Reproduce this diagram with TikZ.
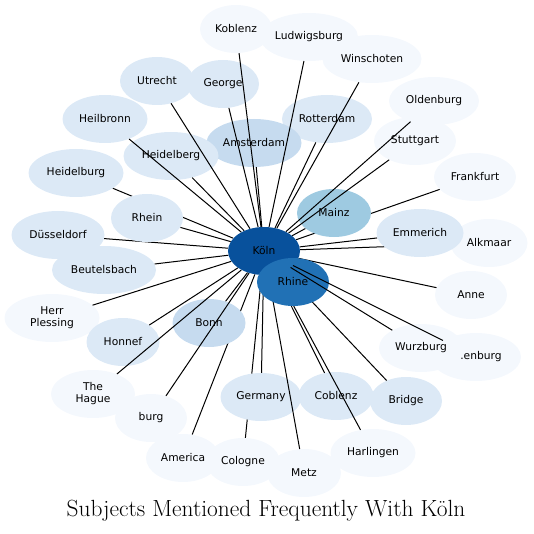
\documentclass[tikz,border=0pt]{standalone}
\usepackage{fontspec}
\newfontfamily\dejavu{DejaVu Sans}
\usepackage{xcolor}
\usepackage{tikz}
\usetikzlibrary{shapes.geometric, calc}

\definecolor{blA}{HTML}{F4F8FD}
\definecolor{blB}{HTML}{DCE9F6}
\definecolor{blC}{HTML}{C6DBEF}
\definecolor{blD}{HTML}{9ECAE1}
\definecolor{blE}{HTML}{2171B5}
\definecolor{blF}{HTML}{08519C}

\pgfdeclarelayer{nodosA}
\pgfdeclarelayer{aristasA}
\pgfdeclarelayer{aristasB}
\pgfdeclarelayer{nodosC}
\pgfdeclarelayer{aristasC}
\pgfsetlayers{nodosA,aristasA,main,aristasB,nodosC,aristasC}

\begin{document}
\begin{tikzpicture}[
    x=1pt, y=-1pt,
    ent/.style={ellipse, fill=#1, minimum width=72pt, minimum height=48pt, inner sep=0pt, align=center, font=\dejavu\fontsize{10.7}{12}\selectfont},
    link/.style={line width=1pt},
    title/.style={font=\fontsize{23.4}{28}\selectfont}
]
\useasboundingbox (0,0) rectangle (533,534);

% ==========================================
% NODOS EXTERIORES
% ==========================================
\begin{pgfonlayer}{nodosA}
\node[ent=blA] (koblenz) at (236,29) {Koblenz};
\node[ent=blA, minimum width=98pt] (ludwigsburg) at (309,37) {Ludwigsburg};
\node[ent=blA, minimum width=99pt] (winschoten) at (372,59) {Winschoten};
\node[ent=blB, minimum width=74pt] (utrecht) at (157,81) {Utrecht};
\node[ent=blB] (george) at (223,84) {George};
\node[ent=blA, minimum width=90pt] (oldenburg) at (434,101) {Oldenburg};
\node[ent=blB, minimum width=85pt] (heilbronn) at (105,119) {Heilbronn};
\node[ent=blB, minimum width=90pt] (rotterdam) at (327,119) {Rotterdam};
\node[ent=blC, minimum width=95pt] (amsterdam) at (254,143) {Amsterdam};
\node[ent=blB, minimum width=95pt] (heidelberg) at (171,156) {Heidelberg};
\node[ent=blA, minimum width=82pt] (stuttgart) at (415,141) {Stuttgart};
\node[ent=blB, minimum width=95pt] (heidelburg) at (76,173) {Heidelburg};
\node[ent=blA, minimum width=82pt] (frankfurt) at (475,177) {Frankfurt};
\node[ent=blA, minimum width=77pt] (alkmaar) at (489,243) {Alkmaar};
\node[ent=blB, minimum width=93pt] (duesseldorf) at (58,235) {Düsseldorf};
\node[ent=blB, minimum width=104pt] (beutelsbach) at (104,270) {Beutelsbach};
\node[ent=blA] (anne) at (471,295) {Anne};
\node[ent=blA, minimum width=95pt] (plessing) at (52,318) {Herr\\Plessing};
\node[ent=blB, minimum width=73pt] (honnef) at (123,342) {Honnef};
\node[ent=blA, minimum width=90pt] (enburg) at (476,357) {\hspace*{10pt}.enburg};
\node[ent=blA, minimum width=84pt] (wurzburg) at (421,348) {Wurzburg};
\node[ent=blA, minimum width=84pt] (hague) at (93,394) {The\\Hague};
\node[ent=blA] (burg) at (151,418) {burg};
\node[ent=blB, minimum width=75pt] (coblenz) at (336,396) {Coblenz};
\node[ent=blB] (bridge) at (406,401) {Bridge};
\node[ent=blA, minimum width=74pt] (america) at (183,458) {America};
\node[ent=blA, minimum width=74pt] (cologne) at (243,462) {Cologne};
\node[ent=blA, minimum width=74pt] (metz) at (304,473) {Metz};
\node[ent=blA, minimum width=85pt] (harlingen) at (373,453) {Harlingen};
\end{pgfonlayer}

% ==========================================
% NODOS INTERMEDIOS
% ==========================================
\node[ent=blB] (rhein) at (147,218) {Rhein};
\node[ent=blD, minimum width=74pt] (mainz) at (334,213) {Mainz};
\node[ent=blB, minimum width=87pt] (emmerich) at (420,233) {Emmerich};
\node[ent=blC, minimum width=73pt] (bonn) at (209,323) {Bonn};
\node[ent=blB, minimum width=81pt] (germany) at (261,397) {Germany};

% ==========================================
% CENTRO
% ==========================================
\begin{pgfonlayer}{nodosC}
\node[ent=blF] (koln) at (264,251) {Köln};
\node[ent=blE] (rhine) at (293,282) {Rhine};
\end{pgfonlayer}

% Aristas debajo de los nodos intermedios
\begin{pgfonlayer}{aristasA}
\foreach \j in {koblenz,ludwigsburg,winschoten,utrecht,george,heilbronn,amsterdam,heidelberg,rotterdam,heidelburg,frankfurt,alkmaar,duesseldorf,beutelsbach,anne,plessing,honnef,coblenz,bridge,america,cologne,harlingen,rhein,mainz,emmerich,bonn,germany,rhine} {
    \draw[link] (koln) -- (\j);
}
\end{pgfonlayer}

\begin{pgfonlayer}{aristasB}
\foreach \j in {stuttgart,oldenburg,burg,hague,metz} {
    \draw[link] (koln) -- (\j);
}
\end{pgfonlayer}

% Aristas por encima de Rhine
\begin{pgfonlayer}{aristasC}
\foreach \j in {wurzburg,enburg} {
    \draw[link] (koln) -- (\j);
}
\end{pgfonlayer}

% Titulo
\node[title] (tt) at (266,511) {Subjects Mentioned Frequently With Köln};

\end{tikzpicture}
\end{document}
